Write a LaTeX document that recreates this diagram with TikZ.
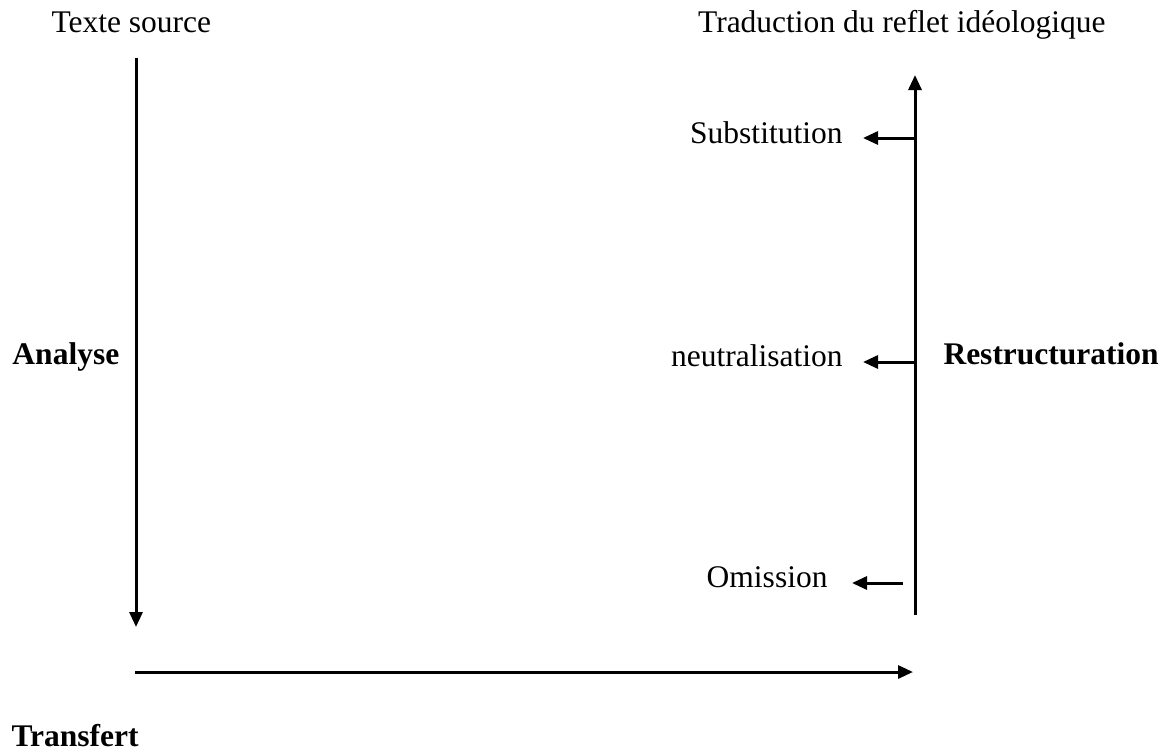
\documentclass[tikz,border=0pt]{standalone}
\usepackage{fontspec}
\setmainfont{Liberation Serif}
\usetikzlibrary{arrows.meta}

\begin{document}
\begin{tikzpicture}[x=0.4pt,y=-0.4pt,
	flow/.style={line width=1.2pt,-{Triangle[length=6pt,width=5.2pt]}},
	txt/.style={inner sep=0pt,font=\fontsize{12.6}{15}\selectfont},
	]
	\useasboundingbox (0,0) rectangle (1171,754);

	% titles
	\node[txt,anchor=base west] (source) at (51,32) {Texte source};
	\node[txt,anchor=base east] (cible) at (1106,32) {Traduction du reflet idéologique};

	% analyse, down the left
	\coordinate (anaTop) at (136,58);
	\coordinate (anaEnd) at (136,627);
	\draw[flow] (anaTop) -- (anaEnd);
	\node[txt,anchor=base west,font=\fontsize{12.6}{15}\selectfont\bfseries] (analyse) at (12,364) {Analyse};

	% transfert, along the bottom
	\coordinate (trStart) at (135,672);
	\coordinate (trEnd) at (913,672);
	\draw[flow] (trStart) -- (trEnd);
	\node[txt,anchor=base west,font=\fontsize{12.6}{15}\selectfont\bfseries] (transfert) at (11,746) {Transfert};

	% restructuration, up the right
	\coordinate (resStart) at (915,615);
	\coordinate (resEnd) at (915,75);
	\draw[flow] (resStart) -- (resEnd);
	\node[txt,anchor=base west,font=\fontsize{12.6}{15}\selectfont\bfseries] (restruct) at (943,364) {Restructuration};

	% the three ways out
	\node[txt,anchor=base east] (subst) at (843,143) {Substitution};
	\node[txt,anchor=base east] (neutre) at (843,366) {neutralisation};
	\node[txt,anchor=base east] (omis) at (828,587) {Omission};

	\coordinate (substBr) at (915,138);
	\coordinate (neutreBr) at (915,362);
	\coordinate (omisBr) at (903,583);
	\draw[flow,shorten >=8pt] (substBr) -- (substBr -| subst.east);
	\draw[flow,shorten >=8pt] (neutreBr) -- (neutreBr -| neutre.east);
	\draw[flow,shorten >=9.6pt] (omisBr) -- (omisBr -| omis.east);
\end{tikzpicture}
\end{document}
